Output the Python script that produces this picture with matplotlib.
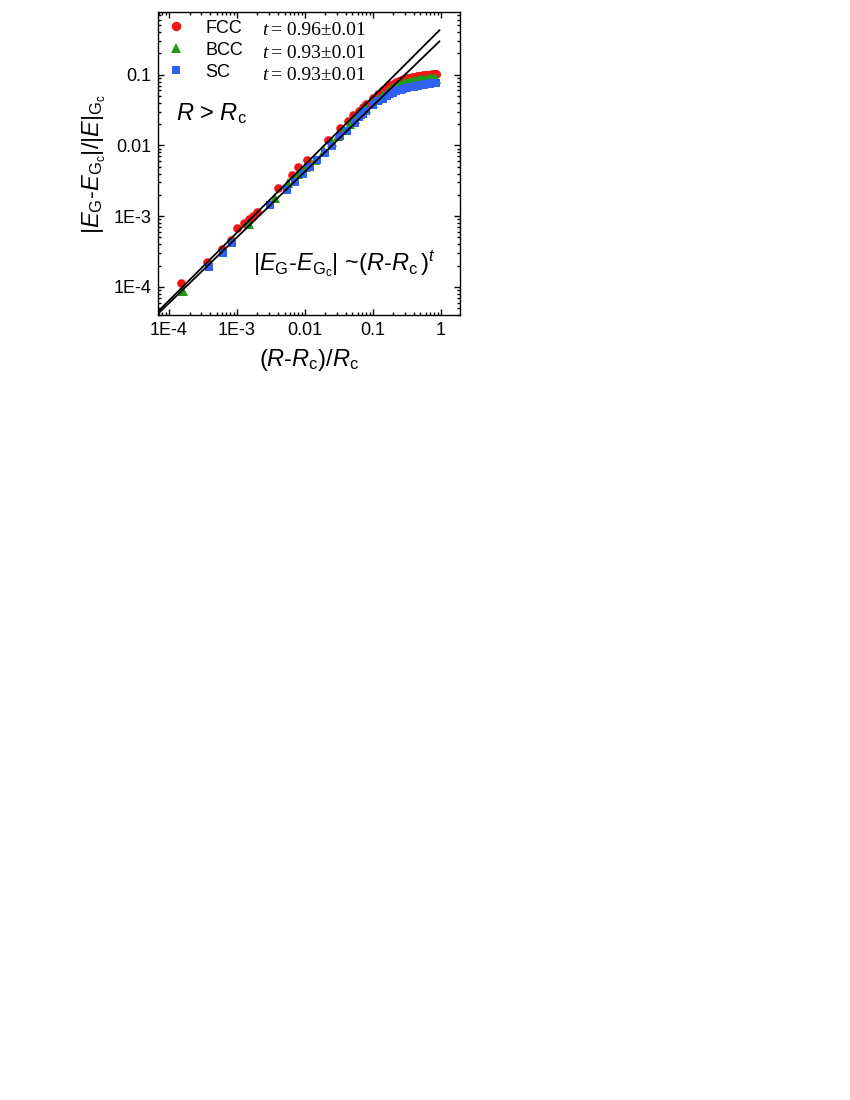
import numpy as np
import matplotlib
matplotlib.use("Agg")
import matplotlib.pyplot as plt
from matplotlib.lines import Line2D

# Fuentes: Arial-like para todo, texto matematico en la misma familia
plt.rcParams['font.family'] = ['Liberation Sans', 'DejaVu Sans']
plt.rcParams['mathtext.fontset'] = 'custom'
plt.rcParams['mathtext.rm'] = 'Liberation Sans'
plt.rcParams['mathtext.it'] = 'Liberation Sans:italic'
plt.rcParams['mathtext.bf'] = 'Liberation Sans:bold'

# Datos
fcc_x = [1.49e-4, 3.66e-4, 5.96e-4, 8.07e-4, 1.01e-3, 1.27e-3, 1.50e-3, 1.74e-3, 1.95e-3,
         4.0e-3, 6.4e-3, 7.9e-3, 0.0107, 0.0218, 0.0328, 0.0429, 0.051, 0.062, 0.071,
         0.08, 0.10, 0.12, 0.14, 0.16, 0.18, 0.20, 0.22, 0.24, 0.26, 0.28, 0.30, 0.32,
         0.34, 0.36, 0.38, 0.40, 0.42, 0.44, 0.46, 0.48, 0.50, 0.52, 0.54, 0.56, 0.58,
         0.60, 0.62, 0.64, 0.66, 0.68, 0.70, 0.72, 0.74, 0.76, 0.78, 0.80, 0.82, 0.84, 0.86]
fcc_y = [1.14e-4, 2.27e-4, 3.43e-4, 4.63e-4, 6.78e-4, 7.96e-4, 9.07e-4, 1.01e-3, 1.13e-3,
         2.48e-3, 3.8e-3, 4.9e-3, 6.2e-3, 0.0118, 0.0174, 0.0218, 0.027, 0.031, 0.035,
         0.039, 0.047, 0.054, 0.060, 0.066, 0.071, 0.075, 0.079, 0.082, 0.084, 0.086, 0.088, 0.089,
         0.090, 0.091, 0.092, 0.093, 0.094, 0.095, 0.0955, 0.096, 0.0965, 0.097, 0.0975, 0.098, 0.0983,
         0.0986, 0.099, 0.0993, 0.0996, 0.0999, 0.1002, 0.1005, 0.1007, 0.1009, 0.1011, 0.1013, 0.1014,
         0.1015, 0.1016]

bcc_x = [1.62e-4, 1.5e-3, 3.6e-3, 5.7e-3, 7.9e-3, 0.0105, 0.014, 0.019, 0.025, 0.031,
         0.038, 0.046, 0.055, 0.065,
         0.08, 0.10, 0.12, 0.14, 0.16, 0.18, 0.20, 0.22, 0.24, 0.26, 0.28, 0.30, 0.32,
         0.34, 0.36, 0.38, 0.40, 0.42, 0.44, 0.46, 0.48, 0.50, 0.52, 0.54, 0.56, 0.58,
         0.60, 0.62, 0.64, 0.66, 0.68, 0.70, 0.72, 0.74, 0.76, 0.78, 0.80, 0.82, 0.84, 0.86]
bcc_y = [8.7e-5, 7.8e-4, 1.83e-3, 2.9e-3, 3.9e-3, 4.9e-3, 6.3e-3, 8.4e-3, 0.0110, 0.0136,
         0.0165, 0.020, 0.024, 0.028,
         0.034, 0.040, 0.046, 0.051, 0.056, 0.060, 0.064, 0.067, 0.070, 0.072, 0.074, 0.0755, 0.077,
         0.078, 0.079, 0.080, 0.081, 0.0815, 0.082, 0.0825, 0.083, 0.0835, 0.084, 0.0843, 0.0846, 0.0849,
         0.0852, 0.0855, 0.0857, 0.0859, 0.0861, 0.0863, 0.0865, 0.0867, 0.0868, 0.0869, 0.0870, 0.0871,
         0.0872, 0.0873]

sc_x = [3.9e-4, 6.2e-4, 8.4e-4, 3.05e-3, 5.4e-3, 7.1e-3, 9.2e-3, 0.0119, 0.0152, 0.0197,
        0.0247, 0.0328, 0.041, 0.054, 0.063, 0.071,
        0.08, 0.10, 0.12, 0.14, 0.16, 0.18, 0.20, 0.22, 0.24, 0.26, 0.28, 0.30, 0.32,
        0.34, 0.36, 0.38, 0.40, 0.42, 0.44, 0.46, 0.48, 0.50, 0.52, 0.54, 0.56, 0.58,
        0.60, 0.62, 0.64, 0.66, 0.68, 0.70, 0.72, 0.74, 0.76, 0.78, 0.80, 0.82, 0.84, 0.86]
sc_y = [1.93e-4, 3.0e-4, 4.17e-4, 1.43e-3, 2.34e-3, 3.04e-3, 3.9e-3, 4.95e-3, 6.2e-3, 7.9e-3,
        9.8e-3, 0.0135, 0.0159, 0.0209, 0.025, 0.028,
        0.031, 0.037, 0.042, 0.046, 0.050, 0.053, 0.056, 0.058, 0.060, 0.0615, 0.063, 0.064, 0.065,
        0.066, 0.067, 0.0675, 0.068, 0.0687, 0.0693, 0.070, 0.0705, 0.071, 0.0715, 0.072, 0.0724, 0.0728,
        0.0732, 0.0736, 0.074, 0.0743, 0.0746, 0.0749, 0.0752, 0.0755, 0.0757, 0.0759, 0.0761, 0.0763,
        0.0764, 0.0765]

# Ajustes de ley de potencia: |E_G - E_Gc| ~ A (R-Rc)^t
fit_t = [0.96, 0.93]
fit_A = [0.445, 0.31]
fit_xrange = [5e-5, 0.95]

labels = ['FCC', 'BCC', 'SC']
t_text = ['0.96', '0.93', '0.93']
colors = ['#f41414', '#1f9a12', '#3060f4']
markers = ['o', '^', 's']

fig = plt.figure(figsize=(8.5, 11), dpi=100)
ax = fig.add_axes([0.186, 0.7136, 0.355, 0.2755])

# Puntos
series = [(fcc_x, fcc_y), (bcc_x, bcc_y), (sc_x, sc_y)]
sizes = [6.2, 6.6, 5.6]
for (xs, ys), c, m, s in zip(series, colors, markers, sizes):
    ax.plot(xs, ys, linestyle='none', marker=m, color=c, markersize=s, markeredgewidth=0)

# Rectas de ajuste
xf = np.array(fit_xrange)
for A, t in zip(fit_A, fit_t):
    ax.plot(xf, A * xf ** t, color='black', lw=1.3)

ax.set_xscale('log')
ax.set_yscale('log')
ax.set_xlim(6.9e-5, 1.9)
ax.set_ylim(4.0e-5, 0.77)

ax.set_xticks([1e-4, 1e-3, 1e-2, 1e-1, 1])
ax.set_xticklabels(['1E-4', '1E-3', '0.01', '0.1', '1'])
ax.set_yticks([1e-4, 1e-3, 1e-2, 1e-1])
ax.set_yticklabels(['1E-4', '1E-3', '0.01', '0.1'])

ax.tick_params(which='both', direction='in', top=True, right=True, labelsize=13, width=1.0)
ax.tick_params(which='major', length=4.5, pad=5)
ax.tick_params(which='minor', length=2.5)
for sp in ax.spines.values():
    sp.set_linewidth(1.0)

ax.set_xlabel(r'$(R$-$R_{\rm c})/R_{\rm c}$', fontsize=17, labelpad=6)
ax.set_ylabel(r'$|E_{\rm G}$-$E_{{\rm G}_{\rm c}}|/|E|_{{\rm G}_{\rm c}}$', fontsize=17, labelpad=4)

# Leyenda
handles = [Line2D([], [], linestyle='none', marker=m, color=c, markersize=s + 0.6, markeredgewidth=0)
           for c, m, s in zip(colors, markers, sizes)]
ax.legend(handles, labels, loc='upper left', bbox_to_anchor=(0.03, 0.975), frameon=False,
          fontsize=13, handlelength=1.0, handletextpad=1.1, labelspacing=0.28,
          borderpad=0, borderaxespad=0)

# Exponentes
for i, tt in enumerate(t_text):
    yy = [0.938, 0.864, 0.791][i]
    ax.text(0.344, yy, 't', transform=ax.transAxes, fontsize=14, va='center',
            family='Liberation Serif', style='italic')
    ax.text(0.375, yy, '= ' + tt + '\u00b1' + '0.01', transform=ax.transAxes, fontsize=14,
            va='center', family='Liberation Serif')

ax.text(0.06, 0.665, r'$R$ > $R_{\rm c}$', transform=ax.transAxes, fontsize=17, va='center')
ax.text(0.315, 0.17, r'$|E_{\rm G}$-$E_{{\rm G}_{\rm c}}|$ ~$(R$-$R_{\rm c}\,)^t$',
        transform=ax.transAxes, fontsize=17, va='center')

fig.savefig('out.png', dpi=100)
